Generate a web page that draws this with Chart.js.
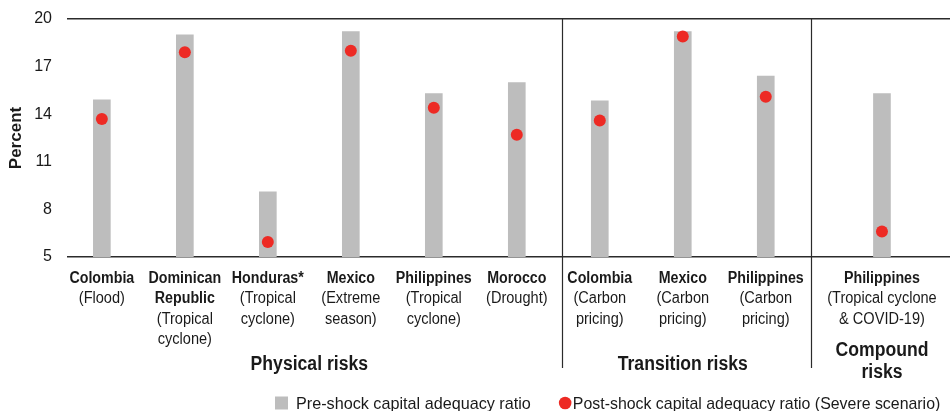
<!DOCTYPE html>
<html lang="en">
<head>
<meta charset="UTF-8">
<title>Capital adequacy stress tests</title>
<script src="https://cdn.jsdelivr.net/npm/chart.js"></script>
<style>
  body { margin: 0; background: #fff; }
  .chart-box { width: 951px; height: 411px; position: relative; }
</style>
</head>
<body>
<div class="chart-box"><canvas id="carChart"></canvas></div>
<script>
// values, percent
const countries = [['Colombia'], ['Dominican', 'Republic'], ['Honduras*'], ['Mexico'], ['Philippines'], ['Morocco'],
                   ['Colombia'], ['Mexico'], ['Philippines'], ['Philippines']];
const shocks = [['(Flood)'], ['(Tropical', 'cyclone)'], ['(Tropical', 'cyclone)'], ['(Extreme', 'season)'],
                ['(Tropical', 'cyclone)'], ['(Drought)'], ['(Carbon', 'pricing)'], ['(Carbon', 'pricing)'],
                ['(Carbon', 'pricing)'], ['(Tropical cyclone', '& COVID-19)']];
const riskGroups = ['Physical', 'Physical', 'Physical', 'Physical', 'Physical', 'Physical',
                    'Transition', 'Transition', 'Transition', 'Compound'];
const groupTitles = { Physical: ['Physical risks'], Transition: ['Transition risks'], Compound: ['Compound', 'risks'] };
const preShock = [14.9, 19.0, 9.1, 19.2, 15.3, 16.0, 14.85, 19.2, 16.4, 15.3];
const postShock = [13.7, 17.9, 5.95, 18.0, 14.4, 12.7, 13.6, 18.9, 15.1, 6.6];
const yTicks = [5, 8, 11, 14, 17, 20];
const legendLabels = ['Pre-shock capital adequacy ratio', 'Post-shock capital adequacy ratio (Severe scenario)'];

const FONT = "'Liberation Sans', Arial, sans-serif";
const INK = '#1a1a1a';
const GREY = '#bdbdbd';
const RED = '#ed2a24';

// compound panel is a bit wider than the others
const slot = riskGroups.map((g, i) => i + (g === 'Compound' ? 0.4 : 0));

// squeezed text, the original uses a condensed face
function drawText(ctx, str, x, y, font, sx) {
    ctx.save();
    ctx.font = font;
    ctx.translate(x, y);
    ctx.scale(sx, 1);
    ctx.fillText(str, 0, 0);
    ctx.restore();
}

const labelPlugin = {
    id: 'riskLabels',
    afterDraw(chart) {
        const ctx = chart.ctx;
        const xs = chart.scales.x;
        const area = chart.chartArea;
        ctx.save();
        ctx.fillStyle = INK;
        ctx.textAlign = 'center';
        ctx.textBaseline = 'alphabetic';

        // category labels: country bold, shock regular
        countries.forEach((c, i) => {
            const px = xs.getPixelForValue(slot[i]);
            let line = 0;
            c.forEach(t => {
                drawText(ctx, t, px, area.bottom + 26 + line * 20.4, 'bold 16px ' + FONT, 0.89);
                line++;
            });
            shocks[i].forEach(t => {
                drawText(ctx, t, px, area.bottom + 26 + line * 20.4, '16px ' + FONT, 0.91);
                line++;
            });
        });

        // group titles + separators
        const names = [...new Set(riskGroups)];
        names.forEach((g, gi) => {
            const idx = riskGroups.map((r, i) => r === g ? i : -1).filter(i => i >= 0);
            const first = idx[0], last = idx[idx.length - 1];
            const cx = (xs.getPixelForValue(slot[first]) + xs.getPixelForValue(slot[last])) / 2;
            const lines = groupTitles[g];
            lines.forEach((t, j) => {
                drawText(ctx, t, cx, area.bottom + 113 - (lines.length - 1) * 14 + j * 22, 'bold 20px ' + FONT, 0.88);
            });
            if (gi > 0) {
                const sx = Math.round(xs.getPixelForValue(slot[first - 1] + 0.55)) + 0.5;
                ctx.strokeStyle = '#2b2b2b';
                ctx.lineWidth = 1.2;
                ctx.beginPath();
                ctx.moveTo(sx, area.top);
                ctx.lineTo(sx, area.bottom + 111);
                ctx.stroke();
            }
        });

        // legend
        ctx.textAlign = 'left';
        let lx = 275;
        const ly = 408.5;
        ctx.fillStyle = GREY;
        ctx.fillRect(lx, 396.5, 13, 13);
        lx += 21;
        ctx.fillStyle = INK;
        ctx.font = '16.2px ' + FONT;
        ctx.fillText(legendLabels[0], lx, ly);
        lx += ctx.measureText(legendLabels[0]).width + 28;
        ctx.fillStyle = RED;
        ctx.beginPath();
        ctx.arc(lx + 6.3, 403, 6.3, 0, Math.PI * 2);
        ctx.fill();
        lx += 14;
        ctx.fillStyle = INK;
        ctx.font = '15.9px ' + FONT;
        ctx.fillText(legendLabels[1], lx, ly);
        ctx.restore();
    }
};

new Chart(document.getElementById('carChart'), {
    type: 'bar',
    data: {
        datasets: [
            {
                type: 'scatter',
                label: legendLabels[1],
                data: postShock.map((v, i) => ({ x: slot[i], y: v })),
                pointRadius: 6,
                pointHoverRadius: 6,
                backgroundColor: RED,
                borderWidth: 0,
                order: 1
            },
            {
                label: legendLabels[0],
                data: preShock.map((v, i) => ({ x: slot[i], y: v })),
                backgroundColor: GREY,
                barThickness: 17,
                order: 2
            }
        ]
    },
    options: {
        responsive: true,
        maintainAspectRatio: false,
        animation: false,
        layout: { autoPadding: false, padding: { top: 19, right: 1, left: 0, bottom: 0 } },
        plugins: { legend: { display: false }, tooltip: { enabled: false } },
        scales: {
            x: {
                type: 'linear',
                min: -0.42,
                max: 10.22,
                offset: false,
                ticks: { display: false },
                grid: { display: false },
                border: { display: false },
                afterFit: s => { s.height = 154; }
            },
            y: {
                min: 5,
                max: 20,
                afterBuildTicks: s => { s.ticks = yTicks.map(v => ({ value: v })); },
                ticks: {
                    padding: 0,
                    color: INK,
                    font: { family: FONT, size: 16 }
                },
                grid: {
                    drawTicks: true,
                    tickLength: 15,
                    tickColor: 'rgba(0,0,0,0)',
                    lineWidth: 1.5,
                    color: c => (c.tick && (c.tick.value === 5 || c.tick.value === 20)) ? '#2b2b2b' : 'rgba(0,0,0,0)'
                },
                border: { display: false },
                title: {
                    display: true,
                    text: 'Percent',
                    color: INK,
                    font: { family: FONT, size: 17, weight: 'bold' },
                    padding: { top: 6, bottom: 0 }
                },
                afterFit: s => { s.width = 67; }
            }
        }
    },
    plugins: [labelPlugin]
});
</script>
</body>
</html>
